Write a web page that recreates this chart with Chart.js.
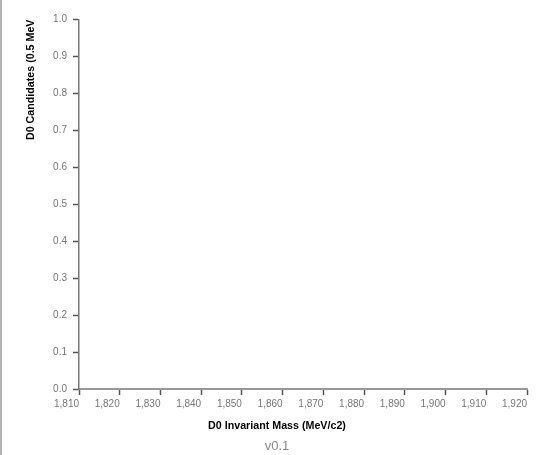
<!DOCTYPE html>
<html>
<head>
<meta charset="utf-8">
<script src="https://cdn.jsdelivr.net/npm/chart.js@4"></script>
<style>
  html, body { margin: 0; padding: 0; background: #fff; overflow: hidden; }
  #wrap { position: absolute; left: 0; top: 0; width: 556px; height: 455px; border-left: 2px solid #b4b4b4; box-sizing: border-box; }
  #massChart { display: block; }
</style>
</head>
<body>
<div id="wrap"><canvas id="massChart" width="554" height="455"></canvas></div>
<script>
// 히스토그램 데이터 (아직 비어 있음)
const massBins = [];      // D0 불변질량 (MeV/c2)
const candidates = [];    // 0.5 MeV 당 후보 수

// 축 범위
const xMin = 1810, xMax = 1920, xStep = 10;
const yMin = 0, yMax = 1, yStep = 0.1;

const ctx = document.getElementById('massChart').getContext('2d');

Chart.defaults.font.family = '"Liberation Sans", Arial, sans-serif';
Chart.defaults.font.size = 10;

const data = {
  datasets: [{
    label: 'D0',
    data: massBins.map((m, i) => ({ x: m, y: candidates[i] })),
    borderColor: '#4682b4',
    backgroundColor: '#4682b4',
    pointRadius: 0
  }]
};

const options = {
  responsive: false,
  animation: false,
  layout: { padding: { top: 19.5, right: 29, bottom: 1, left: 25 } },
  plugins: {
    legend: { display: false },
    tooltip: { enabled: false },
    title: {
      display: true,
      text: 'D0 Invariant Mass (MeV/c2)',
      position: 'bottom',
      weight: 1000,
      color: '#000',
      font: { size: 10.7, weight: 'bold' },
      padding: { top: 6.5, bottom: 4 }
    },
    subtitle: {
      display: true,
      text: 'v0.1',
      position: 'bottom',
      weight: 1500,
      color: '#888',
      font: { size: 13 },
      padding: { top: 2, bottom: 0 }
    }
  },
  scales: {
    x: {
      type: 'linear',
      min: xMin,
      max: xMax,
      border: { color: '#999', width: 2 },
      grid: { drawOnChartArea: false, drawTicks: true, tickLength: 6, tickColor: '#555', tickWidth: 1.5 },
      ticks: {
        stepSize: xStep,
        align: 'end',
        color: '#777',
        padding: 3,
        maxRotation: 0,
        callback: v => v.toLocaleString('en-US')
      }
    },
    y: {
      min: yMin,
      max: yMax,
      border: { color: '#777', width: 1.5 },
      grid: { drawOnChartArea: false, drawTicks: true, tickLength: 6, tickColor: '#555', tickWidth: 1.5 },
      ticks: {
        stepSize: yStep,
        color: '#777',
        padding: 6,
        callback: v => v.toFixed(1)
      },
      title: {
        display: true,
        text: 'D0 Candidates (0.5 MeV',
        align: 'end',
        color: '#000',
        font: { size: 10.7, weight: 'bold' },
        padding: { top: -2.5, bottom: 0 }
      },
      afterFit: scale => { scale.width = 52; }
    }
  }
};

const massChart = new Chart(ctx, {
  type: 'line',
  data: data,
  options: options
});
</script>
</body>
</html>
